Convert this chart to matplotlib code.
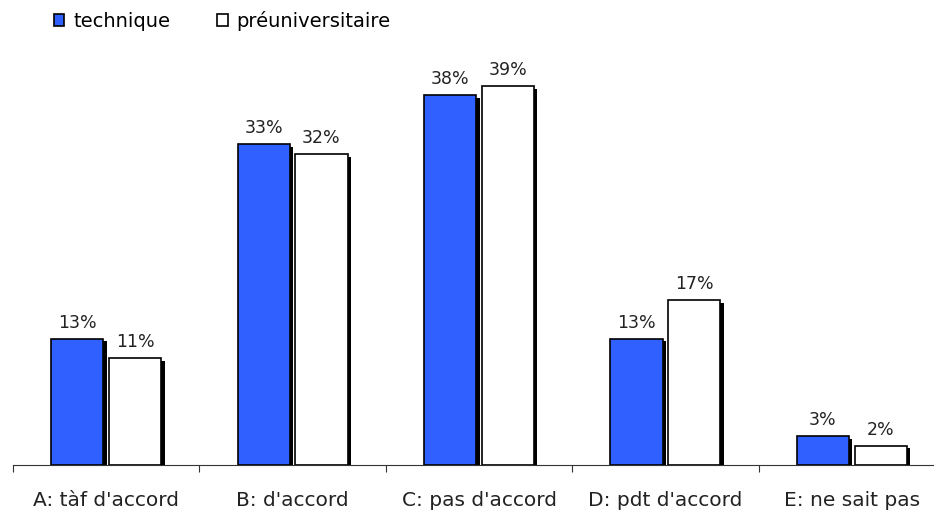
import numpy as np
import matplotlib.pyplot as plt

categories = ["A: tàf d'accord", "B: d'accord", "C: pas d'accord", "D: pdt d'accord", "E: ne sait pas"]
technique = [13, 33, 38, 13, 3]
preuniv = [11, 32, 39, 17, 2]
series_names = ["technique", "préuniversitaire"]

blue = "#3060FF"

fig = plt.figure(figsize=(9.34, 5.17), dpi=100)
ax = fig.add_axes([13 / 934, 52 / 517, 932 / 934, 425 / 517])

x = np.arange(len(categories)) + 0.5
w = 0.28
off = 0.155
sh = 0.018  # shadow offset

# shadows
ax.bar(x - off + sh, np.array(technique) - 0.3, w, bottom=0, color="black", zorder=1)
ax.bar(x + off + sh, np.array(preuniv) - 0.3, w, bottom=0, color="black", zorder=1)

b1 = ax.bar(x - off, technique, w, color=blue, edgecolor="black", linewidth=1.2,
            label=series_names[0], zorder=2)
b2 = ax.bar(x + off, preuniv, w, color="white", edgecolor="black", linewidth=1.2,
            label=series_names[1], zorder=2)

for bars, vals in ((b1, technique), (b2, preuniv)):
    for r, v in zip(bars, vals):
        ax.annotate(f"{v}%", (r.get_x() + r.get_width() / 2, v), xytext=(0, 5),
                    textcoords="offset points", ha="center", va="bottom",
                    fontsize=12.5, color="#222222")

ax.set_xlim(0, 5)
ax.set_ylim(0, 43.7)
ax.set_yticks([])
for s in ("top", "right", "left"):
    ax.spines[s].set_visible(False)
ax.spines["bottom"].set_color("#333333")
ax.set_xticks(np.arange(0, 6))
ax.set_xticklabels([])
ax.set_xticks(x, minor=True)
ax.set_xticklabels(categories, minor=True, fontsize=14.5, color="#222222")
ax.tick_params(axis="x", which="major", direction="out", length=5, color="#333333")
ax.tick_params(axis="x", which="minor", length=0, pad=19)

leg = ax.legend(handles=[b1, b2], loc="upper left", bbox_to_anchor=(44 / 934, 0.998),
                bbox_transform=fig.transFigure, ncol=2, frameon=False,
                fontsize=14, handlelength=0.55, handleheight=0.55,
                handletextpad=0.45, columnspacing=2.4, borderaxespad=0.1)

fig.savefig("out.png", dpi=100)
